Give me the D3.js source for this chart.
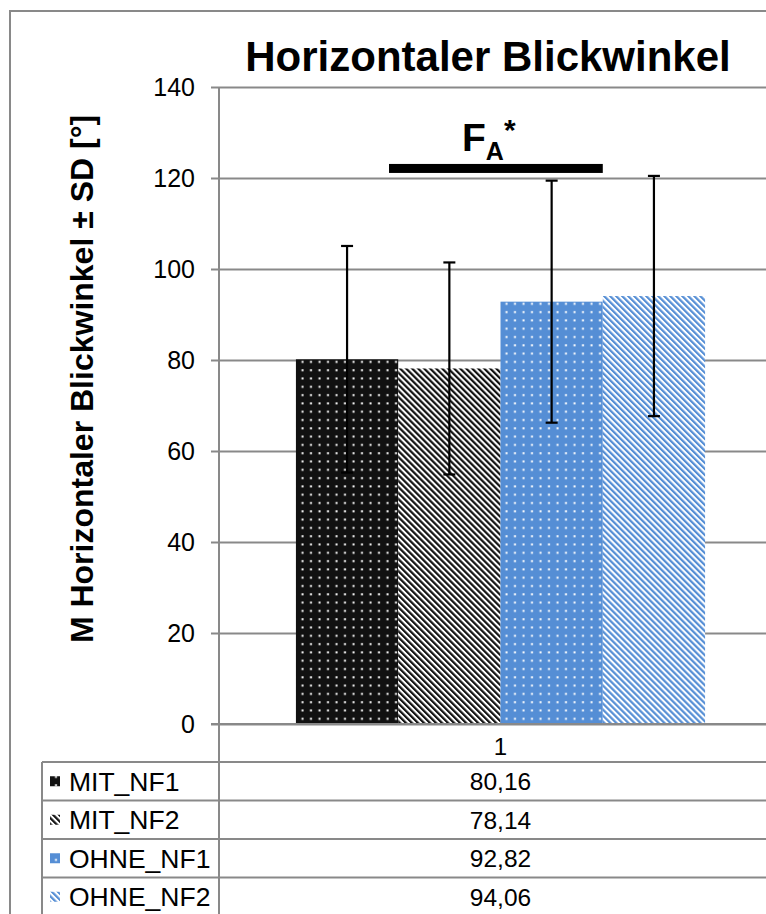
<!DOCTYPE html>
<html>
<head>
<meta charset="utf-8">
<script src="https://cdn.jsdelivr.net/npm/d3@7"></script>
<style>
  html, body { margin: 0; padding: 0; background: #fff; }
  svg { display: block; font-family: "Liberation Sans", Arial, sans-serif; }
</style>
</head>
<body>
<svg id="chart" width="766" height="914"></svg>
<script>
// data
var categories = ["1"];
var series = ["MIT_NF1", "MIT_NF2", "OHNE_NF1", "OHNE_NF2"];
var means = [80.16, 78.14, 92.82, 94.06];
var sds = [24.9, 23.3, 26.6, 26.4];
var yTicks = [0, 20, 40, 60, 80, 100, 120, 140];
var patterns = ["dotsBlack", "stripesBlack", "dotsBlue", "stripesBlue"];
var sigLabel = "F";
var sigSub = "A";
var sigMark = "*";
var sigLevel = 122.1;

var svg = d3.select('#chart');
var grey = '#898989';
var blue = '#558ED5';

// patterns
var defs = svg.append('defs');

function dots(id, fill) {
    var p = defs.append('pattern')
        .attr('id', id)
        .attr('patternUnits', 'userSpaceOnUse')
        .attr('width', 8.5)
        .attr('height', 8.3)
        .attr('x', 0.5)
        .attr('y', 1);
    p.append('rect').attr('width', 8.5).attr('height', 8.3).attr('fill', fill);
    p.append('rect').attr('x', 3.5).attr('y', 3).attr('width', 2).attr('height', 2).attr('fill', '#fff');
}

function stripes(id, fill) {
    var p = defs.append('pattern')
        .attr('id', id)
        .attr('patternUnits', 'userSpaceOnUse')
        .attr('width', 4.25)
        .attr('height', 8)
        .attr('patternTransform', 'rotate(-45)');
    p.append('rect').attr('width', 4.25).attr('height', 8).attr('fill', '#fff');
    p.append('rect').attr('width', 2.2).attr('height', 8).attr('fill', fill);
}

dots('dotsBlack', '#111');
stripes('stripesBlack', '#111');
dots('dotsBlue', blue);
stripes('stripesBlue', blue);

// outer frame
svg.append('path')
    .attr('d', 'M10,914 L10,11 L766,11')
    .attr('fill', 'none')
    .attr('stroke', grey)
    .attr('stroke-width', 2);

// scales
var plotLeft = 219, plotRight = 782, plotTop = 87, plotBottom = 724;

var y = d3.scaleLinear().domain([0, 140]).range([plotBottom, plotTop]);

var x0 = d3.scaleBand()
    .domain(categories)
    .range([plotLeft, plotRight])
    .paddingInner(0)
    .paddingOuter(0.188);

var x1 = d3.scaleBand()
    .domain(series)
    .range([0, x0.bandwidth()])
    .padding(0);

// gridlines + y axis
var yAxis = d3.axisLeft(y)
    .tickValues(yTicks)
    .tickSize(-(766 - plotLeft + 20))
    .tickPadding(24)
    .tickFormat(d3.format('d'));

var gy = svg.append('g')
    .attr('transform', 'translate(' + plotLeft + ',0)')
    .call(yAxis);

gy.select('.domain').remove();
gy.selectAll('.tick line')
    .attr('x1', -8)
    .attr('stroke', grey)
    .attr('stroke-width', 2);
gy.selectAll('.tick text')
    .attr('font-size', 25)
    .attr('fill', '#000')
    .attr('font-family', '"Liberation Sans", Arial, sans-serif');

// vertical axis line, continues down through the data table
svg.append('line')
    .attr('x1', plotLeft).attr('x2', plotLeft)
    .attr('y1', plotTop).attr('y2', 914)
    .attr('stroke', grey)
    .attr('stroke-width', 2);

// bars
var bars = svg.append('g');
series.forEach(function(s, i) {
    bars.append('rect')
        .attr('x', x0(categories[0]) + x1(s))
        .attr('y', y(means[i]))
        .attr('width', x1.bandwidth())
        .attr('height', y(0) - y(means[i]))
        .attr('fill', 'url(#' + patterns[i] + ')');
});

// error bars
var errs = svg.append('g')
    .attr('stroke', '#000')
    .attr('stroke-width', 2.2);
series.forEach(function(s, i) {
    var cx = x0(categories[0]) + x1(s) + x1.bandwidth() / 2;
    var hi = y(means[i] + sds[i]);
    var lo = y(means[i] - sds[i]);
    errs.append('line').attr('x1', cx).attr('x2', cx).attr('y1', hi).attr('y2', lo);
    errs.append('line').attr('x1', cx - 6).attr('x2', cx + 6).attr('y1', hi).attr('y2', hi);
    errs.append('line').attr('x1', cx - 6).attr('x2', cx + 6).attr('y1', lo).attr('y2', lo);
});

// significance bar
var sigX1 = x0(categories[0]) + x1(series[0]) + x1.bandwidth() * 0.91;
var sigX2 = x0(categories[0]) + x1(series[2]) + x1.bandwidth();
svg.append('rect')
    .attr('x', sigX1)
    .attr('y', y(sigLevel) - 4.5)
    .attr('width', sigX2 - sigX1)
    .attr('height', 9)
    .attr('fill', '#000');

var sig = svg.append('text')
    .attr('x', 462)
    .attr('y', 151)
    .attr('font-weight', 'bold')
    .attr('font-size', 39);
sig.append('tspan').text(sigLabel);
sig.append('tspan').attr('font-size', 25).attr('dy', 9).text(sigSub);
sig.append('tspan').attr('font-size', 30).attr('dy', -20).text(sigMark);

// x axis line
svg.append('line')
    .attr('x1', plotLeft - 8).attr('x2', 766)
    .attr('y1', plotBottom).attr('y2', plotBottom)
    .attr('stroke', grey)
    .attr('stroke-width', 2);

// category label
svg.append('text')
    .attr('x', x0(categories[0]) + x0.bandwidth() / 2)
    .attr('y', 755)
    .attr('text-anchor', 'middle')
    .attr('font-size', 24)
    .text(categories[0]);

// title
svg.append('text')
    .attr('x', 488)
    .attr('y', 71)
    .attr('text-anchor', 'middle')
    .attr('font-weight', 'bold')
    .attr('font-size', 42)
    .text('Horizontaler Blickwinkel');

// y label
svg.append('text')
    .attr('transform', 'translate(93,379) rotate(-90)')
    .attr('text-anchor', 'middle')
    .attr('font-weight', 'bold')
    .attr('font-size', 32)
    .text('M Horizontaler Blickwinkel \u00b1 SD [\u00b0]');

// data table
var tableLeft = 42, tableTop = 762, rowH = 38.5;
var fmt = d3.formatLocale({decimal: ',', thousands: '.', grouping: [3], currency: ['', '']}).format('.2f');
var table = svg.append('g');

series.forEach(function(s, i) {
    var top = tableTop + i * rowH;
    table.append('line')
        .attr('x1', tableLeft).attr('x2', 766)
        .attr('y1', top).attr('y2', top)
        .attr('stroke', grey).attr('stroke-width', 2);
    table.append('rect')
        .attr('x', 50).attr('y', top + rowH / 2 - 5)
        .attr('width', 10).attr('height', 10)
        .attr('fill', 'url(#' + patterns[i] + ')');
    table.append('text')
        .attr('x', 69)
        .attr('y', top + rowH / 2 + 9.5)
        .attr('font-size', 26.5)
        .text(s);
    table.append('text')
        .attr('x', x0(categories[0]) + x0.bandwidth() / 2)
        .attr('y', top + rowH / 2 + 9)
        .attr('text-anchor', 'middle')
        .attr('font-size', 24.5)
        .text(fmt(means[i]));
});

table.append('line')
    .attr('x1', tableLeft).attr('x2', tableLeft)
    .attr('y1', tableTop).attr('y2', 914)
    .attr('stroke', grey).attr('stroke-width', 2);
</script>
</body>
</html>
